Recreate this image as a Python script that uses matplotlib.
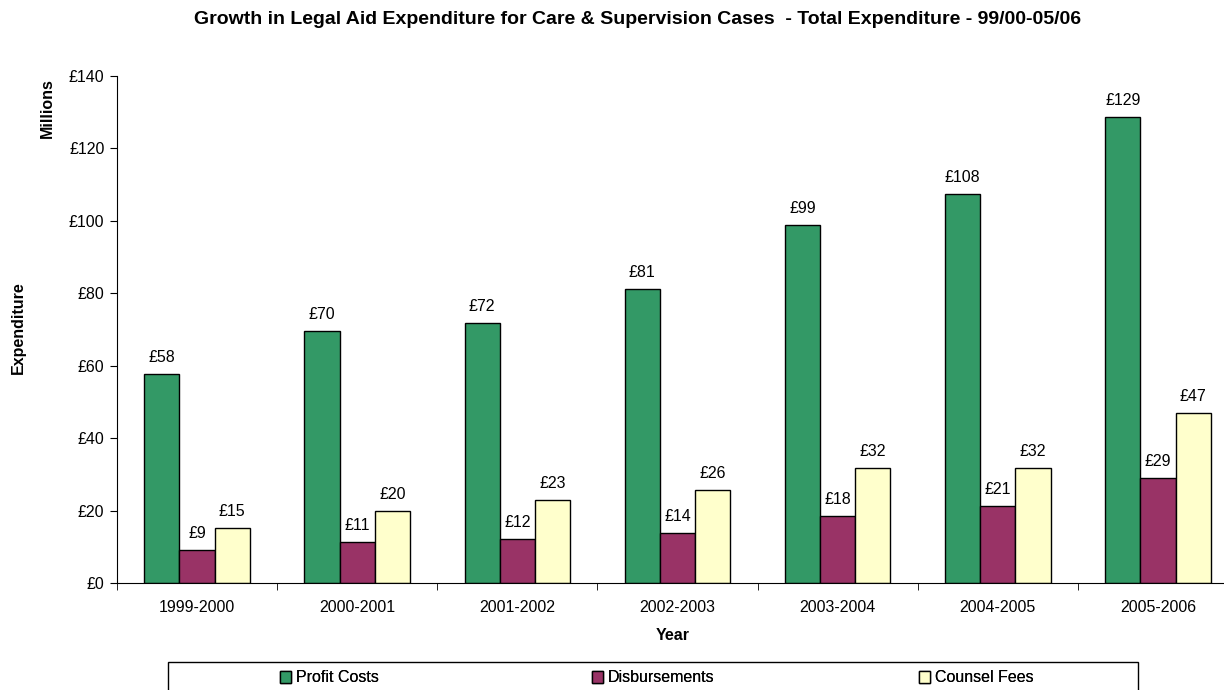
import matplotlib
matplotlib.use("Agg")
import matplotlib.pyplot as plt
from matplotlib.patches import Rectangle
import numpy as np

plt.rcParams['font.family'] = ['Liberation Sans', 'DejaVu Sans']

years = ['1999-2000', '2000-2001', '2001-2002', '2002-2003',
         '2003-2004', '2004-2005', '2005-2006']
profit_costs = [57.7, 69.6, 71.8, 81.1, 98.8, 107.5, 128.7]
disbursements = [9.1, 11.2, 12.2, 13.8, 18.5, 21.3, 28.9]
counsel_fees = [15.2, 19.9, 22.8, 25.7, 31.8, 31.8, 46.9]

series = [('Profit Costs', profit_costs, '#339966'),
          ('Disbursements', disbursements, '#993366'),
          ('Counsel Fees', counsel_fees, '#FFFFCC')]

fs = 11.5

fig = plt.figure(figsize=(12.24, 6.9), dpi=100)
ax = fig.add_axes([117/1224, 1 - 583/690, 1121/1224, 507/690])

x = np.arange(len(years))
w = 0.22
for i, (name, vals, col) in enumerate(series):
    pos = x + (i - 1) * w
    ax.bar(pos, vals, w, color=col, edgecolor='black', linewidth=1.0, label=name)
    for px, v in zip(pos, vals):
        ax.text(px, v + 4.6, '£%d' % round(v), ha='center', va='center', fontsize=fs)

ax.set_xlim(-0.5, len(years) - 0.5)
ax.set_ylim(0, 140)
ax.set_yticks(range(0, 141, 20))
ax.set_yticklabels(['£%d' % t for t in range(0, 141, 20)], fontsize=fs)
ax.set_xticks(x)
ax.set_xticklabels(years, fontsize=fs)
ax.set_xticks(np.arange(-0.5, len(years), 1), minor=True)
ax.tick_params(axis='x', which='major', length=0, pad=12)
ax.tick_params(axis='x', which='minor', length=5, color='black')
ax.tick_params(axis='y', length=5, color='black', pad=4)
ax.spines['top'].set_visible(False)
ax.spines['right'].set_visible(False)
for s in ['left', 'bottom']:
    ax.spines[s].set_color('black')

fig.text(673/1224, 1 - 636/690, 'Year', ha='center', va='center',
         fontsize=fs, fontweight='bold')
fig.text(18/1224, 1 - 328/690, 'Expenditure', rotation=90, ha='center', va='center',
         fontsize=fs, fontweight='bold')
fig.text(47/1224, 1 - 108/690, 'Millions', rotation=90, ha='center', va='center',
         fontsize=fs, fontweight='bold')
fig.text(638/1224, 1 - 19/690,
         'Growth in Legal Aid Expenditure for Care & Supervision Cases  - Total Expenditure - 99/00-05/06',
         ha='center', va='center', fontsize=14, fontweight='bold')

# legend box across the bottom, one entry centred in each third
box_l, box_r, box_t = 168/1224, 1138/1224, 1 - 662/690
fig.add_artist(Rectangle((box_l, -0.05), box_r - box_l, box_t + 0.05,
                         transform=fig.transFigure, fill=False,
                         edgecolor='black', linewidth=1.0))
handles, labels = ax.get_legend_handles_labels()
col_w = (box_r - box_l) / 3
for i, (h, lab) in enumerate(zip(handles, labels)):
    cx = box_l + col_w * (i + 0.5)
    lg = fig.legend([h], [lab], loc='center', bbox_to_anchor=(cx, 1 - 678/690),
                    frameon=False, fontsize=fs, handlelength=0.7, handleheight=0.7,
                    handletextpad=0.3, borderpad=0, borderaxespad=0)
    fig.add_artist(lg)

fig.savefig('out.png', dpi=100)
